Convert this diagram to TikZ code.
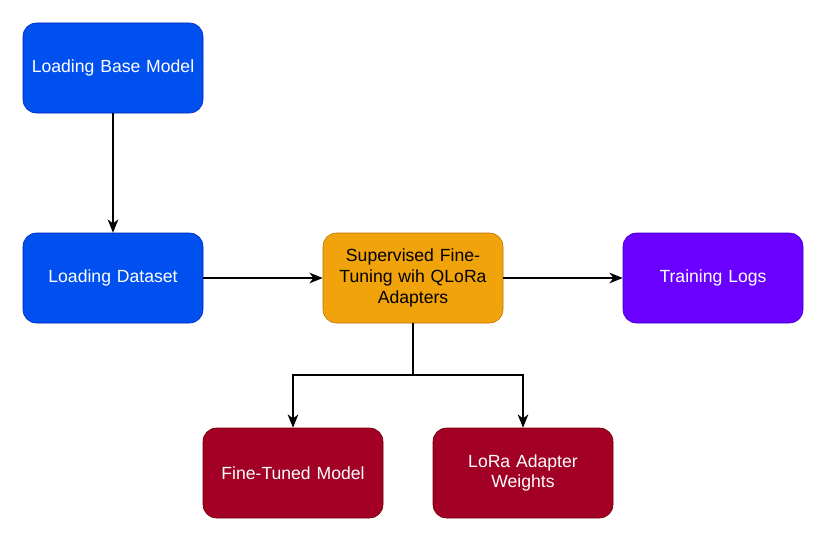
\documentclass[tikz,border=0pt]{standalone}
\usepackage{fontspec}
\setmainfont{Liberation Sans}
\usetikzlibrary{arrows.meta}

\definecolor{blueFill}{HTML}{0050EF}
\definecolor{blueLine}{HTML}{001DBC}
\definecolor{orangeFill}{HTML}{F0A30A}
\definecolor{orangeLine}{HTML}{BD7000}
\definecolor{purpleFill}{HTML}{6A00FF}
\definecolor{purpleLine}{HTML}{3700CC}
\definecolor{redFill}{HTML}{A20025}
\definecolor{redLine}{HTML}{6F0000}

\tikzset{
  box/.style={shape=rectangle, rounded corners=10pt, minimum width=135pt,
    minimum height=67.5pt, text width=125pt, align=center, font=\fontsize{13.2pt}{15.6pt}\selectfont},
  bluebox/.style={box, fill=blueFill, draw=blueLine, text=white},
  orangebox/.style={box, fill=orangeFill, draw=orangeLine, text=black},
  purplebox/.style={box, fill=purpleFill, draw=purpleLine, text=white},
  redbox/.style={box, fill=redFill, draw=redLine, text=white},
  flow/.style={draw, line width=1pt, -{Stealth[length=10pt, width=8pt, inset=3pt]}}
}

\begin{document}
\begin{tikzpicture}[x=0.75pt, y=-0.75pt]
  \useasboundingbox (0, 0) rectangle (827, 542);
  \node (base) at (113, 68) [bluebox] {Loading Base Model};
  \node (data) at (113, 278) [bluebox] {Loading Dataset};
  \node (sft) at (413, 278) [orangebox] {Supervised Fine-\\Tuning wih QLoRa\\Adapters};
  \node (logs) at (713, 278) [purplebox] {Training Logs};
  \node (tuned) at (293, 473) [redbox] {Fine-Tuned Model};
  \node (lora) at (523, 473) [redbox] {LoRa Adapter\\Weights};
  \coordinate (split) at (413, 375);
  \draw[flow] (base) -- (data);
  \draw[flow] (data) -- (sft);
  \draw[flow] (sft) -- (logs);
  \draw[line width=1pt] (sft) -- (split);
  \draw[flow] (split) -| (tuned);
  \draw[flow] (split) -| (lora);
\end{tikzpicture}
\end{document}
